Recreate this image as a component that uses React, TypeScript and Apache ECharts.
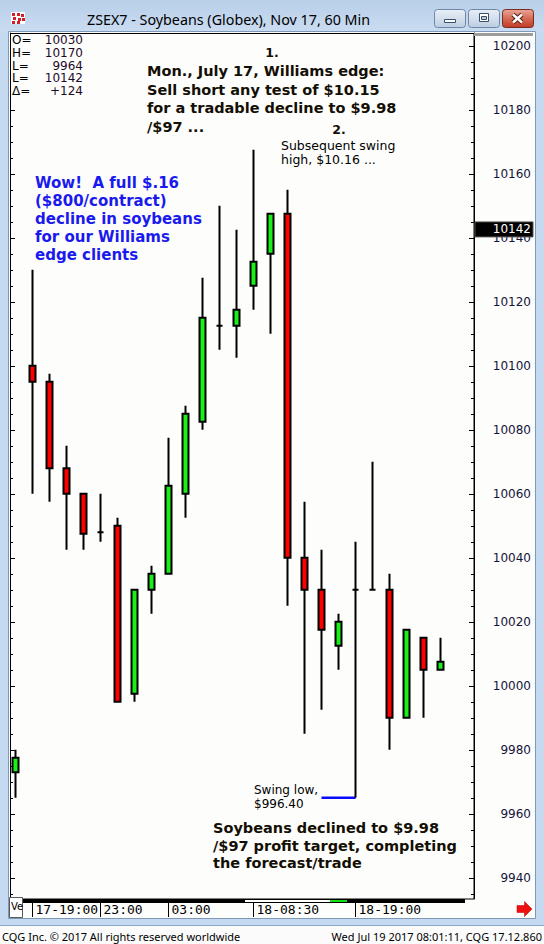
import React, { useEffect, useRef } from "react";
import * as echarts from "echarts";

// ---------- data ----------
const categories = [
  "17-13:00", "17-19:00", "20:00", "21:00", "22:00", "23:00", "00:00", "01:00", "02:00", "03:00",
  "04:00", "05:00", "06:00", "07:00", "18-08:30", "09:30", "10:30", "11:30", "12:30", "13:00",
  "18-19:00", "20:00", "21:00", "22:00", "23:00", "00:00", "01:00", "02:00",
];
const shownTimeLabels = [1, 5, 9, 14, 20];

const opens = [9973, 10100, 10095, 10068, 10060, 10048, 10050, 9997.5, 10030, 10035, 10060, 10082.5, 10112.5, 10112.5, 10125, 10135, 10147.5, 10040, 10030, 10012.5, 10030, 10030, 10030, 9990, 10015, 10005];
const closes = [9977.5, 10095, 10068, 10060, 10047.5, 10048, 9995, 10030, 10035, 10062.5, 10085, 10115, 10112.5, 10117.5, 10132.5, 10147.5, 10040, 10030, 10017.5, 10020, 10030, 10030, 9990, 10017.5, 10005, 10007.5];
const lows = [9965, 10060, 10057.5, 10042.5, 10042.5, 10045, 9995, 9995, 10022.5, 10035, 10052.5, 10080, 10105, 10102.5, 10117.5, 10110, 10025, 9985, 9992.5, 10005, 9965, 10030, 9980, 9990, 9990, 10005];
const highs = [9980, 10130, 10097.5, 10075, 10060, 10060, 10052.5, 10030, 10037.5, 10077.5, 10087.5, 10127.5, 10150, 10142.5, 10167.5, 10147.5, 10155, 10057.5, 10042.5, 10022.5, 10045, 10070, 10035, 10017.5, 10015, 10015];

const yTickLabels = [9940, 9960, 9980, 10000, 10020, 10040, 10060, 10080, 10100, 10120, 10140, 10160, 10180, 10200];
const yMin = 9933.4;
const yMax = 10204;

const lastPrice = 10142;
const swingLowPrice = 9965;
const swingLowFrom = 18;
const swingLowTo = 20;

const statLabels = ["O=", "H=", "L=", "L=", "\u0394="];
const statValues = ["10030", "10170", "9964", "10142", "+124"];

const noteTop = [
  "Mon., July 17, Williams edge:",
  "Sell short any test of $10.15",
  "for a tradable decline to $9.98",
  "/$97 ...",
];
const noteSwingHigh = ["Subsequent swing", "high, $10.16 ..."];
const noteBlue = [
  "Wow!  A full $.16",
  "($800/contract)",
  "decline in soybeans",
  "for our Williams",
  "edge clients",
];
const noteSwingLow = ["Swing low,", "$996.40"];
const noteBottom = [
  "Soybeans declined to $9.98",
  "/$97 profit target, completing",
  "the forecast/trade",
];

// ---------- helpers ----------
const minorTicks: number[] = [];
yTickLabels.forEach((v) => {
  [-15, -10, -5].forEach((d) => minorTicks.push(v + d));
});
minorTicks.push(10205);

const BOLD = 'bold 14.5px "DejaVu Sans"';
const NUMFONT = 'bold 12.5px "DejaVu Sans"';
const BLUEFONT = 'bold 15px "DejaVu Sans"';
const REG = '12.5px "DejaVu Sans"';
const REG_SMALL = '12px "DejaVu Sans"';

function txt(text: string, x: number, y: number, font: string, fill: string, align = "left", z = 20) {
  return {
    type: "text",
    z,
    style: { text, x, y, font, fill, textAlign: align, textVerticalAlign: "middle" },
  };
}

function buildGraphic(yLast: number) {
  const els: any[] = [];
  // title bar
  els.push({
    type: "rect", z: -5,
    shape: { x: 0, y: 0, width: 544, height: 32 },
    style: { fill: new echarts.graphic.LinearGradient(0, 0, 0, 1, [
      { offset: 0, color: "#b8cfe9" }, { offset: 1, color: "#cadcf1" }]) },
  });
  // inner white area
  els.push({
    type: "rect", z: -4,
    shape: { x: 8.5, y: 31.5, width: 527, height: 887 },
    style: { fill: "#fdfdfb", stroke: "#7d98b8", lineWidth: 1 },
  });
  // footer strip
  els.push({
    type: "rect", z: -4,
    shape: { x: 0, y: 926, width: 544, height: 18 },
    style: { fill: "#fbfbfb" },
  });
  els.push({
    type: "line", z: -3,
    shape: { x1: 0, y1: 925.5, x2: 544, y2: 925.5 },
    style: { stroke: "#8ea9c8", lineWidth: 1 },
  });
  // window icon
  els.push({ type: "rect", z: 5, shape: { x: 11, y: 12, width: 14, height: 12 }, style: { fill: "#ffffff" } });
  [[12, 13], [17, 13], [21, 14], [13, 17], [18, 18], [22, 18], [12, 21], [17, 21]].forEach(([x, y]) => {
    els.push({ type: "rect", z: 6, shape: { x, y, width: 3, height: 3 }, style: { fill: "#d0202a" } });
  });
  // title text
  els.push(txt("ZSEX7 - Soybeans (Globex), Nov 17, 60 Min", 87, 19, '14.3px "Noto Sans"', "#000000"));
  // window buttons
  const btnGrad = new echarts.graphic.LinearGradient(0, 0, 0, 1, [
    { offset: 0, color: "#e8eff7" }, { offset: 0.5, color: "#d3dfec" }, { offset: 1, color: "#bccde2" }]);
  els.push({ type: "rect", z: 5, shape: { x: 434.5, y: 9.5, width: 31, height: 18, r: 3 }, style: { fill: btnGrad, stroke: "#6f87a6", lineWidth: 1 } });
  els.push({ type: "rect", z: 6, shape: { x: 444.5, y: 19.5, width: 11, height: 3 }, style: { fill: "#ffffff", stroke: "#3a4f6a", lineWidth: 1 } });
  els.push({ type: "rect", z: 5, shape: { x: 468.5, y: 9.5, width: 31, height: 18, r: 3 }, style: { fill: btnGrad, stroke: "#6f87a6", lineWidth: 1 } });
  els.push({ type: "rect", z: 6, shape: { x: 479.5, y: 13.5, width: 9, height: 8 }, style: { fill: "#ffffff", stroke: "#3a4f6a", lineWidth: 1 } });
  els.push({ type: "rect", z: 7, shape: { x: 481.5, y: 16.5, width: 5, height: 3 }, style: { fill: "#b9c9dc", stroke: "#3a4f6a", lineWidth: 1 } });
  els.push({
    type: "rect", z: 5, shape: { x: 502.5, y: 9.5, width: 31, height: 18, r: 3 },
    style: { fill: new echarts.graphic.LinearGradient(0, 0, 0, 1, [
      { offset: 0, color: "#e8a898" }, { offset: 0.5, color: "#d56a55" }, { offset: 1, color: "#c13a26" }]), stroke: "#7a2a1e", lineWidth: 1 },
  });
  els.push({ type: "line", z: 6, shape: { x1: 513, y1: 14.5, x2: 522, y2: 22.5 }, style: { stroke: "#5a1c12", lineWidth: 4.5 } });
  els.push({ type: "line", z: 6, shape: { x1: 522, y1: 14.5, x2: 513, y2: 22.5 }, style: { stroke: "#5a1c12", lineWidth: 4.5 } });
  els.push({ type: "line", z: 7, shape: { x1: 513, y1: 14.5, x2: 522, y2: 22.5 }, style: { stroke: "#ffffff", lineWidth: 2.5 } });
  els.push({ type: "line", z: 7, shape: { x1: 522, y1: 14.5, x2: 513, y2: 22.5 }, style: { stroke: "#ffffff", lineWidth: 2.5 } });

  // plot frame
  els.push({
    type: "rect", z: 15,
    shape: { x: 10.5, y: 33.5, width: 463.5, height: 865.5 },
    style: { fill: "none", stroke: "#000000", lineWidth: 1 },
  });
  // gray bar top of price scale
  els.push({ type: "rect", z: 15, shape: { x: 474, y: 33, width: 59, height: 3 }, style: { fill: "#9d9d9d" } });
  // bottom scroll bar
  els.push({ type: "rect", z: 16, shape: { x: 23, y: 899, width: 442, height: 4 }, style: { fill: "#000000" } });
  els.push({ type: "rect", z: 17, shape: { x: 245, y: 900, width: 85, height: 2 }, style: { fill: "#ffffff" } });
  els.push({ type: "rect", z: 17, shape: { x: 330, y: 900, width: 17, height: 2 }, style: { fill: "#10e010" } });
  // Ve box
  els.push({ type: "rect", z: 16, shape: { x: 9.5, y: 897.5, width: 13, height: 20 }, style: { fill: "#ffffff", stroke: "#5a5a5a", lineWidth: 1 } });
  els.push(txt("Ve", 11, 906, '10px "DejaVu Sans"', "#000000", "left", 17));
  // red arrow
  els.push({
    type: "polygon", z: 16,
    shape: { points: [[517, 905.5], [524.5, 905.5], [524.5, 901.5], [532, 909], [524.5, 916.5], [524.5, 912.5], [517, 912.5]] },
    style: { fill: "#ee1111", stroke: "#b00000", lineWidth: 0.5 },
  });

  // last price tag
  els.push({ type: "rect", z: 18, shape: { x: 475, y: yLast - 9.5, width: 58, height: 15 }, style: { fill: "#000000", stroke: "#555555", lineWidth: 1 } });
  els.push(txt(String(lastPrice), 531, yLast - 2, '12px "DejaVu Sans"', "#ffffff", "right", 19));

  // stats box (covers the left ticks)
  els.push({ type: "rect", z: 16, shape: { x: 11, y: 34, width: 76, height: 64 }, style: { fill: "#fdfdfb" } });
  statLabels.forEach((s, i) => {
    els.push(txt(s, 12, 40 + i * 12.8, '12px "DejaVu Sans"', "#000000"));
    els.push(txt(statValues[i], 83, 40 + i * 12.8, '12px "DejaVu Sans"', "#1e0a2a", "right"));
  });

  // annotations
  els.push(txt("1.", 272, 52, NUMFONT, "#140f05", "center"));
  noteTop.forEach((s, i) => els.push(txt(s, 147, 71 + i * 18.5, BOLD, "#140f05")));
  els.push(txt("2.", 339, 129, NUMFONT, "#140f05", "center"));
  noteSwingHigh.forEach((s, i) => els.push(txt(s, 281, 145 + i * 14, REG, "#000000")));
  noteBlue.forEach((s, i) => els.push(txt(s, 35, 183 + i * 18, BLUEFONT, "#1a1aee")));
  noteSwingLow.forEach((s, i) => els.push(txt(s, 254, 790 + i * 14, REG_SMALL, "#000000")));
  noteBottom.forEach((s, i) => els.push(txt(s, 213, 828 + i * 17.5, BOLD, "#140f05")));

  // footer
  els.push(txt("CQG Inc. \u00a9 2017 All rights reserved worldwide", 2, 936.5, '11px "Noto Sans"', "#000000"));
  els.push(txt("Wed Jul 19 2017 08:01:11, CQG 17.12.860", 542, 936.5, '11px "Noto Sans"', "#000000", "right"));
  return els;
}

export default function App() {
  const ref = useRef<HTMLDivElement>(null);
  useEffect(() => {
    const chart = echarts.init(ref.current!, null, { renderer: "svg" });
    const candleData = opens.map((o, i) => [o, closes[i], lows[i], highs[i]]);
    const labelFilter = (idx: number) => shownTimeLabels.indexOf(idx) >= 0;
    const yCommon = { type: "value", min: yMin, max: yMax, splitLine: { show: false }, scale: true };
    chart.setOption({
      animation: false,
      backgroundColor: "#c5d9f0",
      grid: { left: 7, right: 61, top: 33, bottom: 45, containLabel: false },
      xAxis: {
        type: "category",
        data: categories,
        boundaryGap: true,
        axisLine: { show: false },
        axisTick: { show: true, alignWithLabel: true, interval: labelFilter, length: 18, lineStyle: { color: "#000", width: 1 } },
        axisLabel: {
          interval: labelFilter, align: "left", margin: 4, padding: [0, 0, 0, 3],
          fontFamily: "DejaVu Sans Mono", fontSize: 13, color: "#000",
        },
        splitLine: { show: false },
      },
      yAxis: [
        {
          ...yCommon, position: "right", offset: -9,
          axisLine: { show: true, lineStyle: { color: "#000", width: 1 } },
          axisTick: { show: true, inside: true, length: 5, customValues: yTickLabels, lineStyle: { color: "#000", width: 1 } },
          axisLabel: {
            show: true, customValues: yTickLabels, margin: 57, align: "right",
            fontFamily: "DejaVu Sans", fontSize: 12, color: "#15153a",
            formatter: (v: number) => String(v),
          },
        },
        {
          ...yCommon, position: "right", offset: -9,
          axisLine: { show: false },
          axisTick: { show: true, inside: true, length: 3, customValues: minorTicks, lineStyle: { color: "#000", width: 1 } },
          axisLabel: { show: false },
        },
        {
          ...yCommon, position: "left", offset: -3,
          axisLine: { show: true, lineStyle: { color: "#000", width: 1 } },
          axisTick: { show: true, inside: true, length: 5, customValues: yTickLabels, lineStyle: { color: "#000", width: 1 } },
          axisLabel: { show: false },
        },
        {
          ...yCommon, position: "left", offset: -3,
          axisLine: { show: false },
          axisTick: { show: true, inside: true, length: 3, customValues: minorTicks, lineStyle: { color: "#000", width: 1 } },
          axisLabel: { show: false },
        },
      ],
      series: [
        {
          type: "candlestick",
          data: candleData,
          barWidth: 6,
          clip: false,
          itemStyle: {
            color: "#18f018", color0: "#ff0000",
            borderColor: "#000", borderColor0: "#000", borderColorDoji: "#000",
            borderWidth: 2,
          },
        },
        {
          type: "line",
          data: [[swingLowFrom, swingLowPrice], [swingLowTo, swingLowPrice]],
          showSymbol: false, symbol: "none",
          lineStyle: { color: "#0a0aff", width: 2.5 },
          z: 1,
        },
      ],
    });
    const yLast = chart.convertToPixel({ yAxisIndex: 0 }, lastPrice) as number;
    chart.setOption({ graphic: { elements: buildGraphic(yLast) } });
    return () => chart.dispose();
  }, []);
  return <div ref={ref} style={{ position: "fixed", left: 0, top: 0, width: 544, height: 944 }} />;
}
